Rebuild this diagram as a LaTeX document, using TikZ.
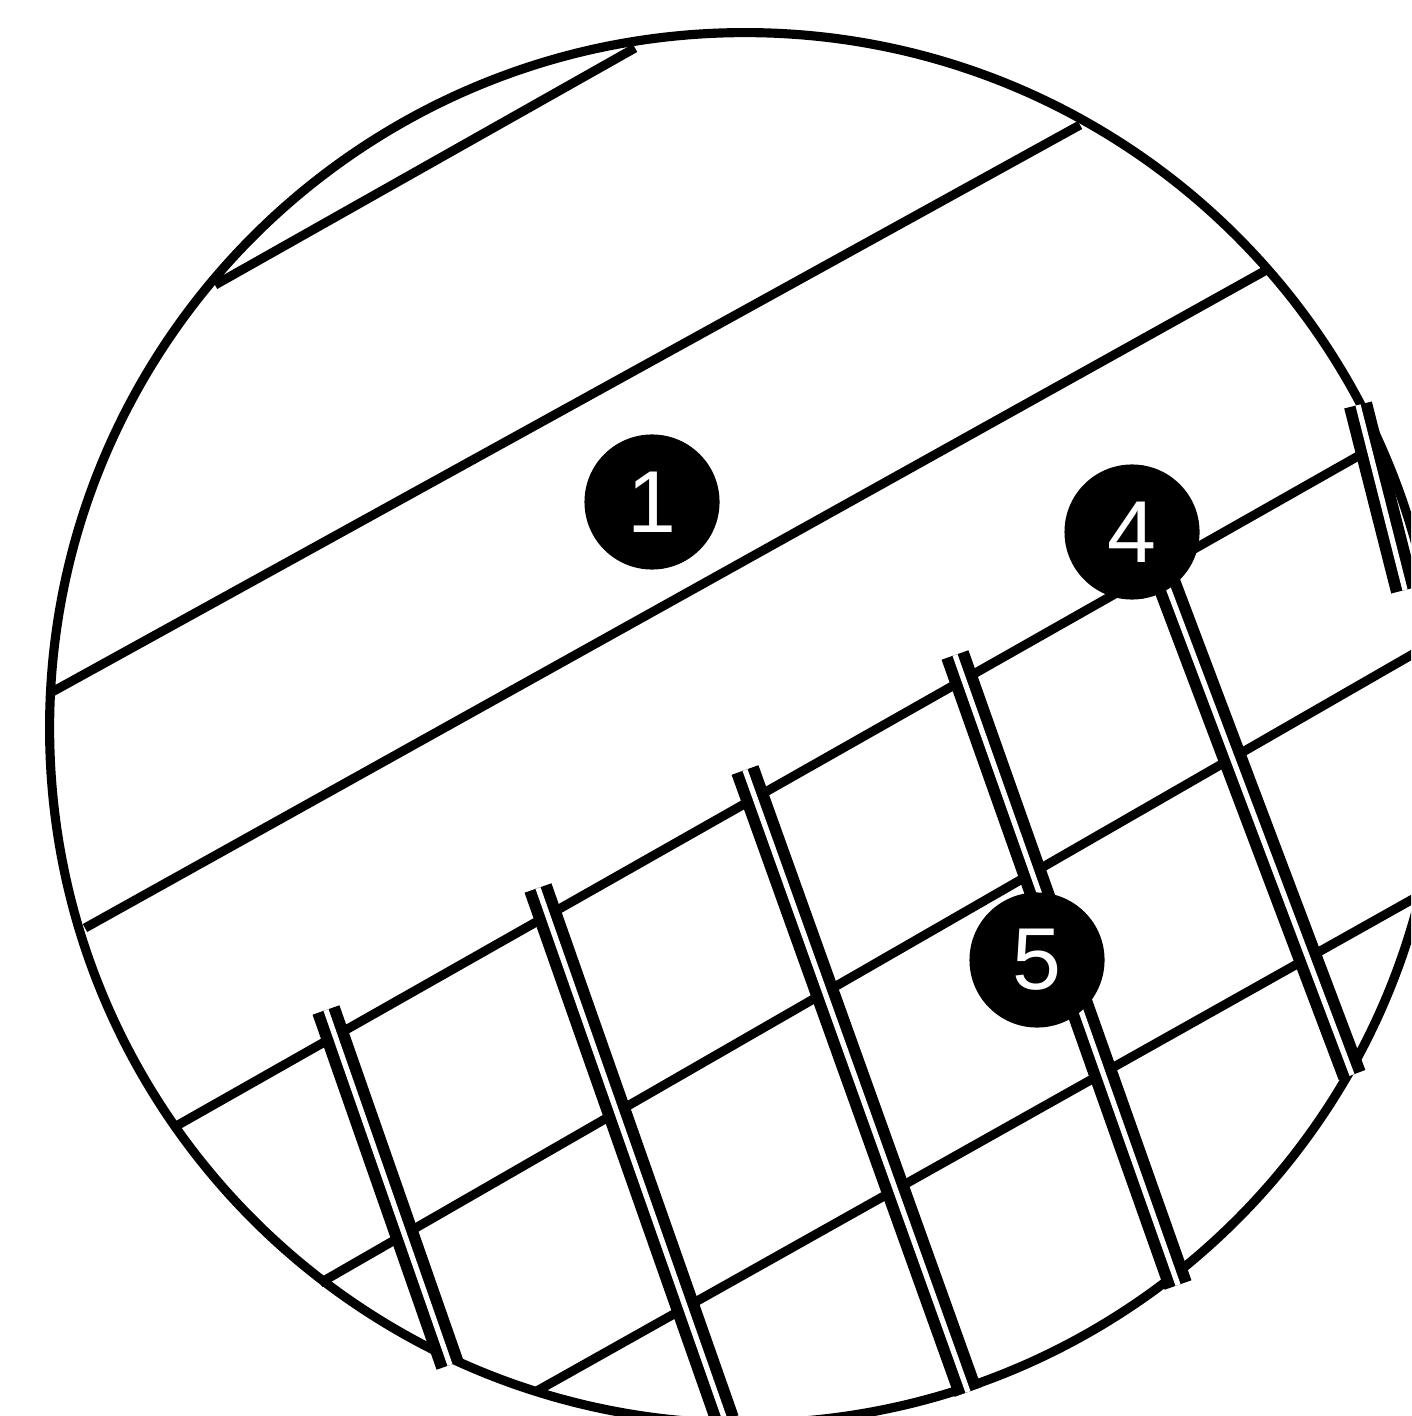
\documentclass[tikz,border=0pt]{standalone}
\usepackage{fontspec}
\setmainfont{Liberation Sans}
\tikzset{
  rail/.style={draw=black,line width=2.6pt},
  tie/.style={draw=black,line width=3.3pt,double=white,double distance=1.5pt},
  numdot/.style={circle,fill=black,text=white,inner sep=0pt,minimum size=1.35cm,
                 font=\fontsize{25}{25}\selectfont},
}
\begin{document}
\begin{tikzpicture}[x=0.01cm,y=-0.01cm]
  \useasboundingbox (0,0) rectangle (1411,1416);
  \clip (0,0) rectangle (1411,1416);
  %% Rim
  \node[circle,draw=black,line width=2.6pt,inner sep=0pt,minimum size=13.9cm] (rim) at (745,728) {};
  %% Rail ends
  \coordinate (a0) at (215,285);   \coordinate (b0) at (635,48);
  \coordinate (a1) at (52,692);    \coordinate (b1) at (1080,125);
  \coordinate (a2) at (85,928);    \coordinate (b2) at (1270,268);
  \coordinate (a3) at (178,1125);  \coordinate (b3) at (1360,455);
  \coordinate (a4) at (320,1283);  \coordinate (b4) at (1420,650);
  \coordinate (a5) at (535,1392);  \coordinate (b5) at (1420,895);
  \foreach \n in {0,...,5}{
    \draw[rail] (a\n) -- (b\n);
  }
  %% Ties
  \coordinate (ta) at (326,1010);  \coordinate (tb) at (450,1365);
  \coordinate (ua) at (538,888);   \coordinate (ub) at (725,1420);
  \coordinate (va) at (745,770);   \coordinate (vb) at (968,1392);
  \coordinate (wa) at (955,655);   \coordinate (wb) at (1178,1285);
  \coordinate (xa) at (1147,532);  \coordinate (xb) at (1352,1075);
  \coordinate (ya) at (1358,405);  \coordinate (yb) at (1405,590);
  \foreach \n in {t,u,v,w,x,y}{
    \draw[tie] (\n a) -- (\n b);
  }
  %% Numbers
  \node[numdot] (one) at (652,502) {1};
  \node[numdot] (four) at (1132,532) {4};
  \node[numdot] (five) at (1037,960) {5};
\end{tikzpicture}
\end{document}
